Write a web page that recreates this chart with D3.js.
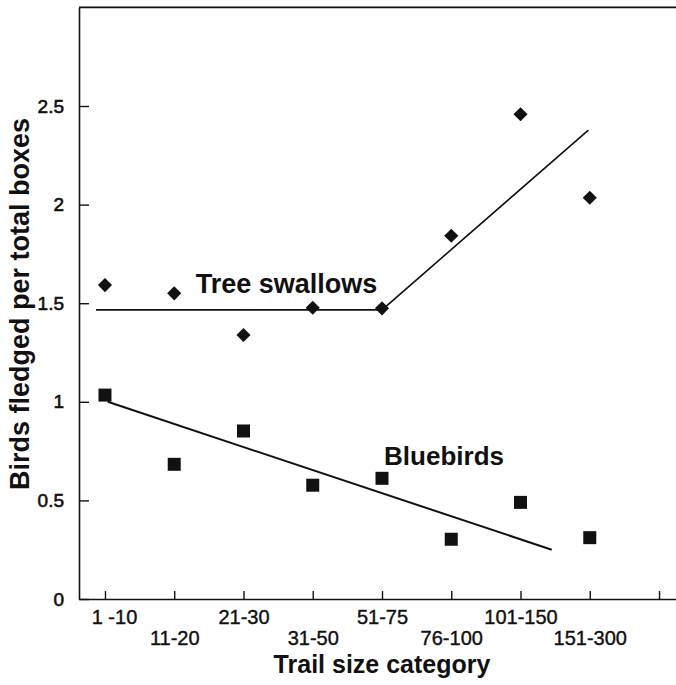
<!DOCTYPE html>
<html>
<head>
<meta charset="utf-8">
<script src="https://cdn.jsdelivr.net/npm/d3@7"></script>
<style>
  html, body { margin: 0; padding: 0; background: #fff; }
  svg { display: block; font-family: "Liberation Sans", Arial, sans-serif; }
</style>
</head>
<body>
<svg id="chart" width="676" height="685"></svg>
<script>
// ---- data ----
const categories = ["1 -10", "11-20", "21-30", "31-50", "51-75", "76-100", "101-150", "151-300"];
const treeSwallows = [1.592, 1.550, 1.339, 1.477, 1.474, 1.842, 2.458, 2.035];
const bluebirds = [1.034, 0.683, 0.852, 0.577, 0.612, 0.303, 0.490, 0.311];
const yTickValues = [0, 0.5, 1, 1.5, 2, 2.5];
const xTickValues = [0, 1, 2, 3, 4, 5, 6, 7, 8];
const swallowFit = [[-0.13, 1.466], [4.0, 1.466], [6.98, 2.378]];
const bluebirdFit = [[0.04, 1.0], [6.45, 0.25]];

// ---- layout ----
const FONT = '"Liberation Sans", Arial, sans-serif';
const svg = d3.select("#chart");
const x = d3.scaleLinear().domain([-0.375, 8.245]).range([79, 676]);
const y = d3.scaleLinear().domain([0, 3]).range([599, 7.4]);
const ink = "#111";

// top frame line
svg.append("line")
  .attr("x1", x(-0.375)).attr("x2", x(8.245))
  .attr("y1", y(3)).attr("y2", y(3))
  .attr("stroke", ink).attr("stroke-width", 1.6);

// y axis
const yAxis = svg.append("g")
  .attr("transform", `translate(${x(-0.375)},0)`)
  .attr("font-family", FONT)
  .call(d3.axisLeft(y).tickValues(yTickValues).tickSize(-10).tickPadding(15)
    .tickSizeOuter(0).tickFormat(d => String(d)));
yAxis.select(".domain").attr("stroke", ink).attr("stroke-width", 1.6);
yAxis.selectAll(".tick line").attr("stroke", ink).attr("stroke-width", 1.4);
yAxis.selectAll(".tick text")
  .attr("fill", ink).attr("stroke", ink).attr("stroke-width", 0.6)
  .style("font-size", "19px").style("font-family", FONT);

// x axis
const xAxis = svg.append("g")
  .attr("transform", `translate(0,${y(0)})`)
  .attr("font-family", FONT)
  .call(d3.axisBottom(x).tickValues(xTickValues).tickSize(-8).tickPadding(0)
    .tickSizeOuter(0).tickFormat(d => categories[d] || ""));
xAxis.select(".domain").attr("stroke", ink).attr("stroke-width", 1.6);
xAxis.selectAll(".tick line").attr("stroke", ink).attr("stroke-width", 1.4);
xAxis.selectAll(".tick text")
  .attr("fill", ink).attr("stroke", ink).attr("stroke-width", 0.4)
  .style("font-size", "20px").style("font-family", FONT)
  .attr("dy", null)
  .attr("y", d => (d % 2 === 0 ? 25 : 46))
  .attr("dx", d => (d === 0 ? 9 : 0));

// fit lines
const line = d3.line().x(d => x(d[0])).y(d => y(d[1]));
svg.append("path").datum(swallowFit).attr("d", line)
  .attr("fill", "none").attr("stroke", ink).attr("stroke-width", 1.6);
svg.append("path").datum(bluebirdFit).attr("d", line)
  .attr("fill", "none").attr("stroke", ink).attr("stroke-width", 2);

// markers
svg.append("g").selectAll("path").data(treeSwallows).join("path")
  .attr("transform", (d, i) => `translate(${x(i)},${y(d)}) rotate(45)`)
  .attr("d", d3.symbol().type(d3.symbolSquare).size(100))
  .attr("fill", ink);
svg.append("g").selectAll("path").data(bluebirds).join("path")
  .attr("transform", (d, i) => `translate(${x(i)},${y(d)})`)
  .attr("d", d3.symbol().type(d3.symbolSquare).size(169))
  .attr("fill", ink);

// series labels
svg.append("text").attr("x", x(1.31)).attr("y", y(1.552))
  .attr("fill", ink).style("font-size", "27px").style("font-weight", "bold")
  .text("Tree swallows");
svg.append("text").attr("x", x(4.03)).attr("y", y(0.68))
  .attr("fill", ink).style("font-size", "26px").style("font-weight", "bold")
  .text("Bluebirds");

// axis titles
svg.append("text").attr("x", 382).attr("y", 673).attr("text-anchor", "middle")
  .attr("fill", ink).style("font-size", "25px").style("font-weight", "bold")
  .text("Trail size category");
svg.append("text")
  .attr("transform", "translate(29,304) rotate(-90)")
  .attr("text-anchor", "middle")
  .attr("fill", ink).style("font-size", "27px").style("font-weight", "bold")
  .text("Birds fledged per total boxes");
</script>
</body>
</html>
